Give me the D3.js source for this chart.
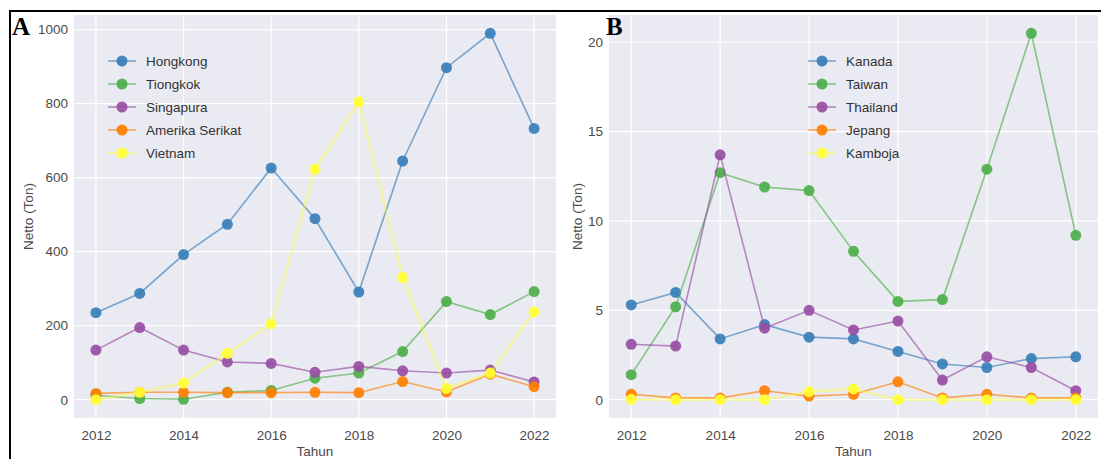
<!DOCTYPE html>
<html><head><meta charset="utf-8">
<script src="https://cdn.jsdelivr.net/npm/d3@7"></script>
<style>
body{margin:0;background:#fff;}
text{font-family:"Liberation Sans",Arial,sans-serif;}
</style></head>
<body><svg id="c" width="1101" height="459"></svg>
<script>
const years = [2012,2013,2014,2015,2016,2017,2018,2019,2020,2021,2022];
const xTicks = [2012,2014,2016,2018,2020,2022];

// Panel A
const seriesA = ["Hongkong","Tiongkok","Singapura","Amerika Serikat","Vietnam"];
const hongkong = [235,287,392,474,626,489,291,645,897,990,733];
const tiongkok = [12,3,1,20,25,58,72,130,265,230,292];
const singapura = [134,195,134,102,98,74,90,78,72,80,48];
const amerika = [17,20,20,19,19,20,19,49,21,69,35];
const vietnam = [0,20,45,125,205,623,805,330,30,72,237];
const yTicksA = [0,200,400,600,800,1000];

// Panel B
const seriesB = ["Kanada","Taiwan","Thailand","Jepang","Kamboja"];
const kanada = [5.3,6.0,3.4,4.2,3.5,3.4,2.7,2.0,1.8,2.3,2.4];
const taiwan = [1.4,5.2,12.7,11.9,11.7,8.3,5.5,5.6,12.9,20.5,9.2];
const thailand = [3.1,3.0,13.7,4.0,5.0,3.9,4.4,1.1,2.4,1.8,0.5];
const jepang = [0.3,0.1,0.1,0.5,0.2,0.3,1.0,0.1,0.3,0.1,0.1];
const kamboja = [0.02,0.0,0.0,0.0,0.45,0.6,0.0,0.0,0.0,0.0,0.0];
const yTicksB = [0,5,10,15,20];

const colors = ["#377eb8","#4daf4a","#984ea3","#ff7f00","#ffff33"];

const svg = d3.select("#c");

function panel(cfg){
  const {left,right,top,bottom,yDomain,yTicks,names,data,legendX,label,labelX} = cfg;
  const x = d3.scaleLinear().domain([2011.5,2022.5]).range([left,right]);
  const y = d3.scaleLinear().domain(yDomain).range([bottom,top]);
  const g = svg.append("g");
  g.append("rect").attr("x",left).attr("y",top).attr("width",right-left).attr("height",bottom-top).attr("fill","#eaeaf2");
  g.selectAll(".gx").data(xTicks).enter().append("line")
    .attr("x1",d=>x(d)).attr("x2",d=>x(d)).attr("y1",top).attr("y2",bottom)
    .attr("stroke","#fff").attr("stroke-width",1.2);
  g.selectAll(".gy").data(yTicks).enter().append("line")
    .attr("x1",left).attr("x2",right).attr("y1",d=>y(d)).attr("y2",d=>y(d))
    .attr("stroke","#fff").attr("stroke-width",1.2);
  const xa = g.append("g").attr("transform",`translate(0,${bottom})`)
    .call(d3.axisBottom(x).tickValues(xTicks).tickFormat(d3.format("d")).tickSize(0).tickPadding(12));
  xa.select(".domain").remove();
  xa.selectAll("text").attr("fill","#4a4a4a").style("font-size","13.5px");
  const ya = g.append("g").attr("transform",`translate(${left},0)`)
    .call(d3.axisLeft(y).tickValues(yTicks).tickFormat(d3.format("d")).tickSize(0).tickPadding(6));
  ya.select(".domain").remove();
  ya.selectAll("text").attr("fill","#4a4a4a").style("font-size","13.5px");
  g.append("text").attr("x",(left+right)/2).attr("y",456).attr("text-anchor","middle")
    .attr("fill","#4a4a4a").style("font-size","13.5px").text("Tahun");
  g.append("text").attr("transform",`translate(${labelX},${(top+bottom)/2}) rotate(-90)`)
    .attr("text-anchor","middle").attr("fill","#4a4a4a").style("font-size","13.5px").text("Netto (Ton)");
  const line = d3.line().x((d,i)=>x(years[i])).y(d=>y(d));
  data.forEach((vals,k)=>{
    g.append("path").datum(vals).attr("d",line).attr("fill","none")
      .attr("stroke",colors[k]).attr("stroke-width",k===4?2.6:1.6).attr("stroke-opacity",k===4?0.4:0.65);
    g.selectAll(null).data(vals).enter().append("circle")
      .attr("cx",(d,i)=>x(years[i])).attr("cy",d=>y(d)).attr("r",5.5)
      .attr("fill",colors[k]).attr("fill-opacity",0.92);
  });
  const rows = [61,84,107,130,153];
  names.forEach((n,k)=>{
    const lg = g.append("g");
    lg.append("line").attr("x1",legendX-14).attr("x2",legendX+14).attr("y1",rows[k]).attr("y2",rows[k])
      .attr("stroke",colors[k]).attr("stroke-width",k===4?2.6:1.6).attr("stroke-opacity",k===4?0.4:0.65);
    lg.append("circle").attr("cx",legendX).attr("cy",rows[k]).attr("r",5.5).attr("fill",colors[k]).attr("fill-opacity",0.92);
    lg.append("text").attr("x",legendX+24).attr("y",rows[k]+5).attr("fill","#333")
      .style("font-size","13.5px").text(n);
  });
  svg.append("text").attr("x",label.x).attr("y",label.y)
    .style("font-family","'Liberation Serif','Times New Roman',serif").style("font-weight","bold")
    .style("font-size","25px").attr("fill","#000").text(label.t);
}

panel({left:74,right:556,top:15,bottom:418,yDomain:[-49.5,1039.5],yTicks:yTicksA,
  names:seriesA,data:[hongkong,tiongkok,singapura,amerika,vietnam],legendX:122,
  label:{x:12,y:35,t:"A"},labelX:33});
panel({left:609,right:1098,top:15,bottom:418,yDomain:[-1.025,21.525],yTicks:yTicksB,
  names:seriesB,data:[kanada,taiwan,thailand,jepang,kamboja],legendX:822,
  label:{x:606,y:35,t:"B"},labelX:582});

svg.append("line").attr("x1",9).attr("x2",1101).attr("y1",11).attr("y2",11).attr("stroke","#000").attr("stroke-width",2);
svg.append("line").attr("x1",10).attr("x2",10).attr("y1",10).attr("y2",459).attr("stroke","#000").attr("stroke-width",2);
</script></body></html>
